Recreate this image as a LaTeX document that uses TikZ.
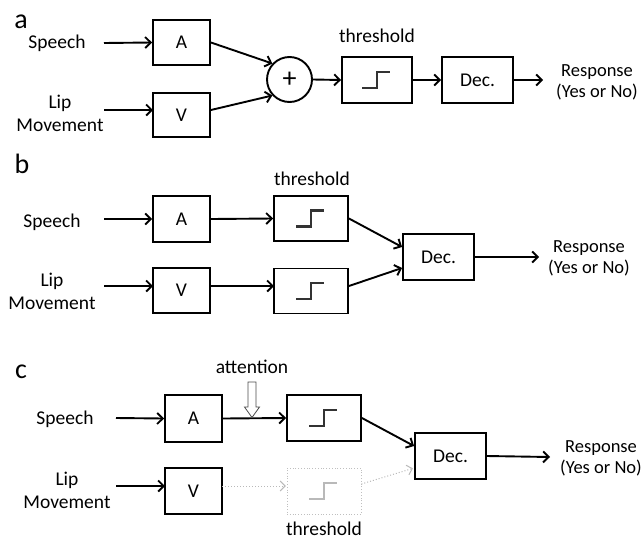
\documentclass[tikz,border=0pt]{standalone}
\usepackage{fontspec}
\setmainfont{Carlito}
\usetikzlibrary{arrows.meta}
\begin{document}
\begin{tikzpicture}[x=1pt,y=-1pt,
  lbl/.style={font=\fontsize{19.5}{23}\selectfont, align=center, inner sep=0pt},
  resp/.style={font=\fontsize{18.5}{21}\selectfont, align=center, inner sep=0pt},
  panel/.style={font=\fontsize{28}{30}\selectfont, inner sep=0pt},
  blk/.style={draw, line width=1.9pt, minimum width=57pt, minimum height=45pt, inner sep=0pt, font=\fontsize{19.5}{22}\selectfont},
  thr/.style={blk, minimum width=74pt, minimum height=46pt},
  decb/.style={blk, minimum width=71pt, minimum height=46pt},
  ghost/.style={draw=gray!50, line width=0.8pt, dotted, minimum width=74pt, minimum height=46pt, inner sep=0pt},
  arr/.style={line width=1.9pt, -{Straight Barb[length=5.5pt,width=11pt,line width=1.9pt]}},
  garr/.style={draw=gray!55, line width=1pt, dotted, -{Straight Barb[length=5pt,width=10pt,line width=1pt,sep]}},
  stepsym/.pic={\draw[line width=2.4pt] (-15,8) -- (0,8) -- (0,-8) -- (13,-8);}
]
\useasboundingbox (0,0) rectangle (644,541);

% ---------------- panel a
\node[panel] (la) at (21,21.5) {a};
\node[lbl] (sa) at (57,43) {Speech};
\node[lbl] (lma) at (60,113.5) {Lip\\Movement};
\node[blk] (aA) at (181.5,42.5) {A};
\node[blk, minimum height=44pt] (aV) at (181.5,115) {V};
\node[circle, draw, line width=1.9pt, minimum size=45pt, inner sep=0pt, font=\fontsize{28}{28}\selectfont] (sum) at (289.5,79.5) {+};
\node[thr, minimum width=70pt] (ta) at (377,80) {};
\pic[color=black!80] at (ta) {stepsym};
\node[lbl] (tla) at (377,36) {threshold};
\node[decb] (da) at (477.5,80) {Dec.};
\node[resp] (ra) at (597,82.5) {Response\\(Yes or No)};
\coordinate (sa0) at (104,43);
\coordinate (va0) at (104,110);
\coordinate (va1) at (153,110);
\coordinate (ra0) at (543,80);
\draw[arr] (sa0) -- (aA.west);
\draw[arr] (va0) -- (va1);
\draw[arr] (aA.east) -- (sum.137);
\draw[arr] (aV.east |- 0,110) -- (sum.223);
\draw[arr] (sum.east) -- (ta.west);
\draw[arr] (ta.east) -- (da.west);
\draw[arr] (da.east) -- (ra0);

% ---------------- panel b
\node[panel] (lb) at (22,164) {b};
\node[lbl] (sb) at (52,222) {Speech};
\node[lbl] (lmb) at (52,291) {Lip\\Movement};
\node[blk, minimum height=46pt] (bA) at (181.5,219) {A};
\node[blk] (bV) at (181.5,290.5) {V};
\node[thr, minimum height=45pt] (tb1) at (311,218.5) {};
\node[thr, minimum height=45pt] (tb2) at (311,291) {};
\pic[color=black!80] at (tb1) {stepsym};
\pic[color=black!80] at (tb2) {stepsym};
\node[lbl] (tlb) at (312,179) {threshold};
\node[decb] (db) at (438.5,257) {Dec.};
\node[resp] (rb) at (589,258) {Response\\(Yes or No)};
\coordinate (sb0) at (104,219);
\coordinate (vb0) at (104,286);
\coordinate (vb1) at (153,286);
\coordinate (vb2) at (210,286);
\coordinate (vb3) at (274,286);
\coordinate (rb0) at (539,257);
\draw[arr] (sb0) -- (bA.west);
\draw[arr] (vb0) -- (vb1);
\draw[arr] (bA.east) -- (tb1.west);
\draw[arr] (vb2) -- (vb3);
\draw[arr] (tb1.east) -- ([yshift=10pt]db.west);
\draw[arr] ([yshift=5pt]tb2.east) -- ([yshift=-11pt]db.west);
\draw[arr] (db.east) -- (rb0);

% ---------------- panel c
\node[panel] (lc) at (21,372) {c};
\node[lbl] (sc) at (65,419) {Speech};
\node[lbl] (lmc) at (67,490) {Lip\\Movement};
\node[blk, minimum height=47pt] (cA) at (193.5,418.5) {A};
\node[blk, line width=1.1pt, minimum height=46pt] (cV) at (193.5,491) {V};
\node[thr] (tc1) at (324,418) {};
\pic[color=black!80] at (tc1) {stepsym};
\node[ghost] (tc2) at (324,491) {};
\pic[color=gray!55] at (tc2) {stepsym};
\node[lbl] (tlc) at (324,529) {threshold};
\node[lbl] (att) at (252,367) {attention};
\node[decb] (dc) at (450.5,456) {Dec.};
\node[resp] (rc) at (601,458) {Response\\(Yes or No)};
\coordinate (sc0) at (116,418);
\coordinate (vc0) at (116,486);
\coordinate (vc1) at (165,486);
\coordinate (vc2) at (222,486);
\coordinate (vc3) at (287,486);
\coordinate (rc0) at (550,457);
\draw[arr] (sc0) -- (cA.west);
\draw[arr] (vc0) -- (vc1);
\draw[arr] (cA.east) -- (tc1.west);
\draw[garr] (vc2) -- (vc3);
\draw[arr] (tc1.east) -- ([yshift=10pt]dc.west);
\draw[garr] ([yshift=7pt]tc2.east) -- ([yshift=-12pt]dc.west);
\draw[arr] (dc.east) -- (rc0);
% attention hollow arrow
\draw[fill=white, draw=black!70, line width=0.8pt]
  (248,382) -- (256,382) -- (256,407) -- (259.5,407) -- (252,417.5) -- (244.5,407) -- (248,407) -- cycle;
\end{tikzpicture}
\end{document}
